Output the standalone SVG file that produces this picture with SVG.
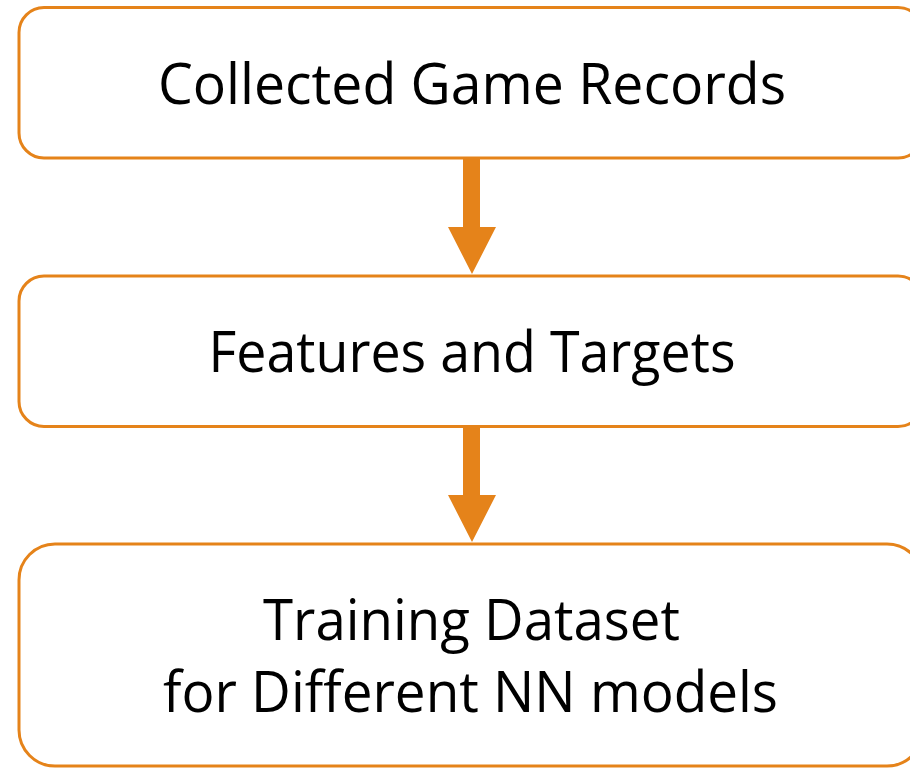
<svg xmlns="http://www.w3.org/2000/svg" width="910" height="768" viewBox="0 0 910 768">
<style>
.box{fill:#FFFFFF;stroke:#E5831A;stroke-width:3}
.arr{fill:#E5831A;stroke:none}
.t{font-family:"Open Sans","Noto Sans","Liberation Sans",sans-serif;font-size:56px;fill:#000000;text-anchor:middle}
</style>
<rect width="910" height="768" fill="#FFFFFF"/>
<g id="connectors">
<path class="arr" d="M463,159 H480 V227 H496 L472,274 L448,227 H463 Z"/>
<path class="arr" d="M463,427 H480 V495 H496 L472,542 L448,495 H463 Z"/>
</g>
<g id="node1">
<rect class="box" x="19" y="7.5" width="904" height="150.5" rx="25" ry="25"/>
<text class="t" x="472" y="104" textLength="628" lengthAdjust="spacingAndGlyphs">Collected Game Records</text>
</g>
<g id="node2">
<rect class="box" x="19" y="276" width="904" height="150.5" rx="25" ry="25"/>
<text class="t" x="472" y="372" textLength="527" lengthAdjust="spacingAndGlyphs">Features and Targets</text>
</g>
<g id="node3">
<rect class="box" x="19" y="544" width="904" height="222" rx="36" ry="36"/>
<text class="t" x="471.5" y="640" textLength="417" lengthAdjust="spacingAndGlyphs">Training Dataset</text>
<text class="t" x="470.5" y="712" textLength="615" lengthAdjust="spacingAndGlyphs">for Different NN models</text>
</g>
</svg>
